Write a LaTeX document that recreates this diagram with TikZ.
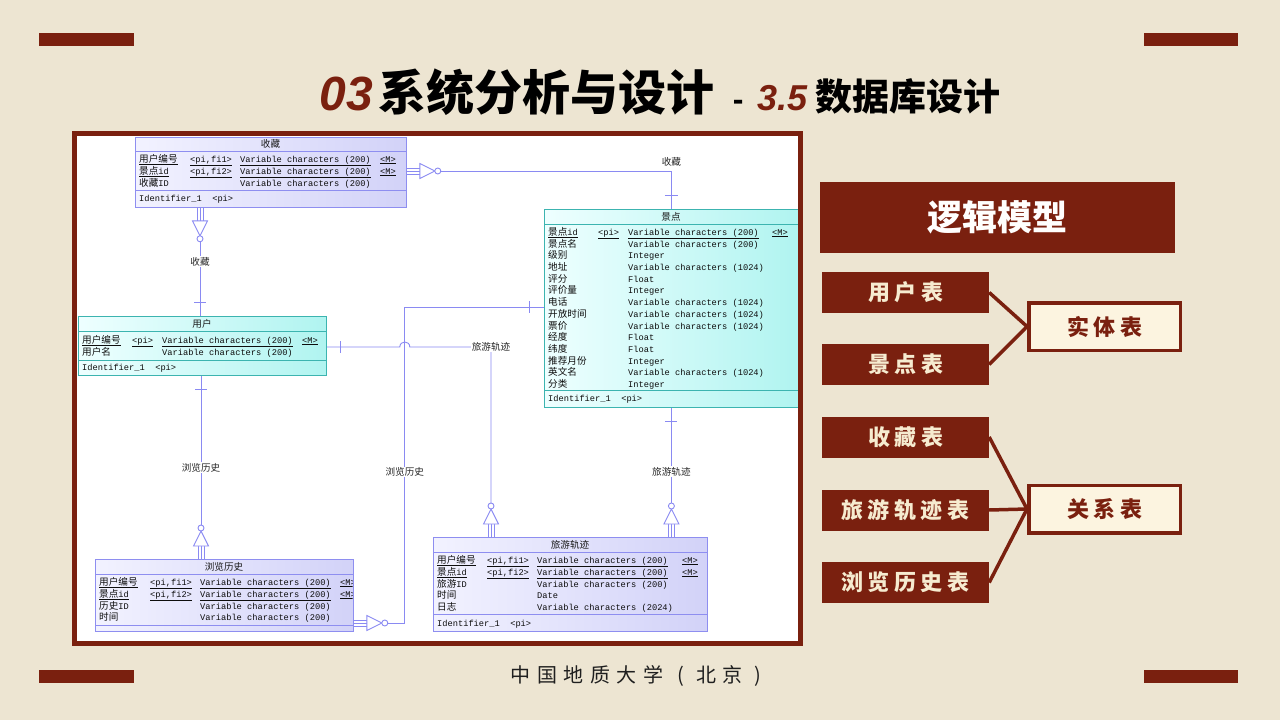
\documentclass[tikz,border=0pt]{standalone}
\usepackage{fontspec}
\usepackage{array}
\usetikzlibrary{calc}

\newfontfamily\cjk{Noto Sans CJK SC}
\newfontfamily\ermono{Liberation Mono}
\newfontfamily\headsans{Liberation Sans}

\definecolor{paper}{HTML}{EDE5D2}
\definecolor{dred}{HTML}{7A200F}
\definecolor{cream}{HTML}{F6EBD0}
\definecolor{lightcream}{HTML}{FCF4E0}
\definecolor{relc}{HTML}{8A8AF2}
\definecolor{lavedge}{HTML}{8E8EF0}
\definecolor{lavL}{HTML}{F2F2FF}
\definecolor{lavR}{HTML}{D2D2F8}
\definecolor{cyanedge}{HTML}{3CB4B0}
\definecolor{cyanL}{HTML}{EEFFFF}
\definecolor{cyanR}{HTML}{B0F4F0}

% Chinese text inside the ER tables
\newcommand\zh[1]{{\fontsize{9.6}{11.7}\cjk #1}}
\newcommand\ul[1]{\underline{#1}}
\newcommand\vc[1]{Variable characters (#1)}

\tikzset{
  lavtbl/.style={draw=lavedge, line width=0.8pt, left color=lavL, right color=lavR,
    anchor=north west, inner sep=0pt},
  cyantbl/.style={draw=cyanedge, line width=0.8pt, left color=cyanL, right color=cyanR,
    anchor=north west, inner sep=0pt},
  lavsep/.style={draw=lavedge, line width=0.8pt},
  cyansep/.style={draw=cyanedge, line width=0.8pt},
  fields/.style={anchor=base west, inner sep=0pt, text=black!95,
    font=\fontsize{8.7}{11.7}\ermono},
  hdr/.style={inner sep=0pt, text=black!90, font=\fontsize{9.6}{11}\cjk},
  rel/.style={draw=relc, line width=0.9pt},
  rlab/.style={fill=white, inner sep=1pt, text=black!85, font=\fontsize{9.6}{11}\cjk},
  manyend/.pic={
    \draw[rel] (0,-3) -- (13,-3) (0,0) -- (13,0) (0,3) -- (13,3);
    \draw[rel, fill=white] (13,-7.5) -- (28,0) -- (13,7.5) -- cycle;
    \draw[rel, fill=white] (31,0) circle[radius=3pt];
  },
  darkbox/.style={fill=dred, minimum width=167pt, minimum height=41pt, inner sep=0pt,
    text=cream, font=\fontsize{22}{24}\cjk\bfseries},
  lightbox/.style={fill=lightcream, draw=dred, line width=3.5pt, minimum width=151.5pt,
    minimum height=47.5pt, inner sep=0pt, text=dred, font=\fontsize{22}{24}\cjk\bfseries},
  panelline/.style={draw=dred, line width=3.5pt},
}

\begin{document}
\begin{tikzpicture}[x=1pt,y=-1pt]
\useasboundingbox (0,0) rectangle (1280,720);
\fill[paper] (0,0) rectangle (1280,720);

% corner bars
\fill[dred] (39,33) rectangle (134,46);
\fill[dred] (1144,33) rectangle (1238,46);
\fill[dred] (39,670) rectangle (134,683);
\fill[dred] (1144,670) rectangle (1238,683);

% heading
\node (title) at (660,92) {%
  {\color{dred}\headsans\bfseries\itshape\fontsize{48}{52}\selectfont 03}\hspace{6pt}%
  {\cjk\bfseries\fontsize{48}{52}\selectfont 系统分析与设计}\hspace{18pt}%
  {\headsans\bfseries\fontsize{32}{34}\selectfont -}\hspace{14pt}%
  {\color{dred}\headsans\bfseries\itshape\fontsize{36}{38}\selectfont 3.5}\hspace{8pt}%
  {\cjk\bfseries\fontsize{37}{40}\selectfont 数据库设计}};

% ER diagram canvas
\fill[white] (77,136) rectangle (798,641);

% ---- table: 收藏
\node[lavtbl, minimum width=271pt, minimum height=70pt] (shoucang) at (135,137) {};
\draw[lavsep] (135,151) -- (406,151);
\draw[lavsep] (135,190) -- (406,190);
\node[hdr] (sc-h) at (270.5,144) {收藏};
\node[fields] (sc-f) at (139,162.2) {%
\begin{tabular}[t]{@{}p{51pt}@{}p{50pt}@{}p{140pt}@{}l@{}}
\ul{\zh{用户编号}} & \ul{<pi,fi1>} & \ul{\vc{200}} & \ul{<M>}\\
\ul{\zh{景点}id} & \ul{<pi,fi2>} & \ul{\vc{200}} & \ul{<M>}\\
\zh{收藏}ID & & \vc{200} & \\
\end{tabular}};
\node[fields] (sc-id) at (139,201.2) {Identifier\_1\ \ <pi>};

% ---- table: 景点
\node[cyantbl, minimum width=254pt, minimum height=198pt] (jingdian) at (544,209) {};
\draw[cyansep] (544,224) -- (798,224);
\draw[cyansep] (544,390) -- (798,390);
\node[hdr] (jd-h) at (671,216.5) {景点};
\node[fields] (jd-f) at (548,235.2) {%
\begin{tabular}[t]{@{}p{50pt}@{}p{30pt}@{}p{144pt}@{}l@{}}
\ul{\zh{景点}id} & \ul{<pi>} & \ul{\vc{200}} & \ul{<M>}\\
\zh{景点名} & & \vc{200} & \\
\zh{级别} & & Integer & \\
\zh{地址} & & \vc{1024} & \\
\zh{评分} & & Float & \\
\zh{评价量} & & Integer & \\
\zh{电话} & & \vc{1024} & \\
\zh{开放时间} & & \vc{1024} & \\
\zh{票价} & & \vc{1024} & \\
\zh{经度} & & Float & \\
\zh{纬度} & & Float & \\
\zh{推荐月份} & & Integer & \\
\zh{英文名} & & \vc{1024} & \\
\zh{分类} & & Integer & \\
\end{tabular}};
\node[fields] (jd-id) at (548,401.2) {Identifier\_1\ \ <pi>};

% ---- table: 用户
\node[cyantbl, minimum width=248pt, minimum height=59pt] (yonghu) at (78,316) {};
\draw[cyansep] (78,331) -- (326,331);
\draw[cyansep] (78,360) -- (326,360);
\node[hdr] (yh-h) at (202,323.5) {用户};
\node[fields] (yh-f) at (82,343.2) {%
\begin{tabular}[t]{@{}p{50pt}@{}p{30pt}@{}p{140pt}@{}l@{}}
\ul{\zh{用户编号}} & \ul{<pi>} & \ul{\vc{200}} & \ul{<M>}\\
\zh{用户名} & & \vc{200} & \\
\end{tabular}};
\node[fields] (yh-id) at (82,370.2) {Identifier\_1\ \ <pi>};

% ---- table: 浏览历史 (narrow box, last column cut off)
\node[lavtbl, minimum width=258pt, minimum height=72pt] (liulan) at (95,559) {};
\draw[lavsep] (95,574) -- (353,574);
\draw[lavsep] (95,625) -- (353,625);
\node[hdr] (ll-h) at (224,566.5) {浏览历史};
\begin{scope}
\clip (95,559) rectangle (352.5,631);
\node[fields] (ll-f) at (99,585.2) {%
\begin{tabular}[t]{@{}p{51pt}@{}p{50pt}@{}p{140pt}@{}l@{}}
\ul{\zh{用户编号}} & \ul{<pi,fi1>} & \ul{\vc{200}} & \ul{<M>}\\
\ul{\zh{景点}id} & \ul{<pi,fi2>} & \ul{\vc{200}} & \ul{<M>}\\
\zh{历史}ID & & \vc{200} & \\
\zh{时间} & & \vc{200} & \\
\end{tabular}};
\end{scope}

% ---- table: 旅游轨迹
\node[lavtbl, minimum width=274pt, minimum height=94pt] (lvyou) at (433,537) {};
\draw[lavsep] (433,552) -- (707,552);
\draw[lavsep] (433,614) -- (707,614);
\node[hdr] (ly-h) at (570,544.5) {旅游轨迹};
\node[fields] (ly-f) at (437,563.2) {%
\begin{tabular}[t]{@{}p{50pt}@{}p{50pt}@{}p{145pt}@{}l@{}}
\ul{\zh{用户编号}} & \ul{<pi,fi1>} & \ul{\vc{200}} & \ul{<M>}\\
\ul{\zh{景点}id} & \ul{<pi,fi2>} & \ul{\vc{200}} & \ul{<M>}\\
\zh{旅游}ID & & \vc{200} & \\
\zh{时间} & & Date & \\
\zh{日志} & & \vc{2024} & \\
\end{tabular}};
\node[fields] (ly-id) at (437,626.2) {Identifier\_1\ \ <pi>};

% ---- relationships
% 收藏 -- 景点
\coordinate (a1) at ($(shoucang.north east)+(0,34)$);
\draw[rel] ($(a1)+(34,0)$) -| (jingdian.north);
\draw[rel] ($(jingdian.north)+(-6.5,-14)$) -- ++(13,0);
\pic at (a1) {manyend};
\node[rlab] (la) at ($(jingdian.north)+(0,-47)$) {收藏};

% 收藏 -- 用户
\coordinate (b1) at ($(shoucang.south west)+(65,0)$);
\draw[rel] ($(b1)+(0,34)$) -- (b1 |- yonghu.north);
\draw[rel] ($(b1 |- yonghu.north)+(-6,-14)$) -- ++(12,0);
\pic[rotate=-90] at (b1) {manyend};
\node[rlab] (lb) at ($(b1)+(0,54)$) {收藏};

% 用户 -- 浏览历史
\coordinate (e1) at ($(yonghu.south west)+(123,0)$);
\coordinate (e2) at (e1 |- liulan.north);
\draw[rel] (e1) -- ($(e2)+(0,-34)$);
\draw[rel] ($(e1)+(-6,14)$) -- ++(12,0);
\pic[rotate=90] at (e2) {manyend};
\node[rlab] (le) at ($(e1)+(0,92)$) {浏览历史};

% 景点 -- 浏览历史
\coordinate (d1) at ($(jingdian.north west)+(0,98)$);
\coordinate (d2) at ($(liulan.north east)+(0,64)$);
\draw[rel] (d1) -| ($(d2)+(51,0)$) -- ($(d2)+(34,0)$);
\draw[rel] ($(d1)+(-15,-6)$) -- ++(0,12);
\pic at (d2) {manyend};
\node[rlab] (ld) at ($(d2)+(51,-151)$) {浏览历史};

% 用户 -- 旅游轨迹 (hops over the 浏览历史 line)
\coordinate (c1) at ($(yonghu.north east)+(0,31)$);
\coordinate (c2) at ($(lvyou.north west)+(58,0)$);
\coordinate (hopL) at ($(c1)+(73,0)$);
\coordinate (hopR) at ($(c1)+(83,0)$);
\draw[rel] (c1) -- (hopL) .. controls ($(hopL)+(0,-6.7)$) and ($(hopR)+(0,-6.7)$) .. (hopR)
  -- (c2 |- c1) -- ($(c2)+(0,-34)$);
\draw[rel] ($(c1)+(14,-6)$) -- ++(0,12);
\pic[rotate=90] at (c2) {manyend};
\node[rlab] (lc) at (c2 |- c1) {旅游轨迹};

% 景点 -- 旅游轨迹
\coordinate (f2) at (jingdian.south |- lvyou.north);
\draw[rel] (jingdian.south) -- ($(f2)+(0,-34)$);
\draw[rel] ($(jingdian.south)+(-6,14)$) -- ++(12,0);
\pic[rotate=90] at (f2) {manyend};
\node[rlab] (lf) at ($(jingdian.south)+(0,64)$) {旅游轨迹};

% frame around the diagram
\draw[dred, line width=5pt] (74.5,133.5) rectangle (800.5,643.5);

% ---- side panel
\node[fill=dred, minimum width=355pt, minimum height=71pt, inner sep=0pt,
  text=white!96!cream, font=\fontsize{35}{38}\cjk\bfseries] (ljmx) at (997.5,217.5) {逻辑模型};

\node[darkbox] (yhb) at (905.5,292.5) {用\kern4.5pt 户\kern4.5pt 表};
\node[darkbox] (jdb) at (905.5,364.5) {景\kern4.5pt 点\kern4.5pt 表};
\node[darkbox] (scb) at (905.5,437) {收\kern4.5pt 藏\kern4.5pt 表};
\node[darkbox] (lyb) at (905.5,510) {旅\kern4.5pt 游\kern4.5pt 轨\kern4.5pt 迹\kern4.5pt 表};
\node[darkbox] (llb) at (905.5,582.5) {浏\kern4.5pt 览\kern4.5pt 历\kern4.5pt 史\kern4.5pt 表};

\node[lightbox] (stb) at (1104.5,326.5) {实\kern4.5pt 体\kern4.5pt 表};
\node[lightbox] (gxb) at (1104.5,509) {关\kern4.5pt 系\kern4.5pt 表};

\draw[panelline] (yhb.east) -- (stb.west);
\draw[panelline] (jdb.east) -- (stb.west);
\draw[panelline] (scb.east) -- (gxb.west);
\draw[panelline] (lyb.east) -- (gxb.west);
\draw[panelline] (llb.east) -- (gxb.west);

% footer
\node[text=black!88, font=\fontsize{20}{22}\cjk] (foot) at (636,676)
  {中\kern6.5pt 国\kern6.5pt 地\kern6.5pt 质\kern6.5pt 大\kern6.5pt 学\kern14pt (\kern12pt 北\kern6pt 京\kern12pt )};
\end{tikzpicture}
\end{document}
